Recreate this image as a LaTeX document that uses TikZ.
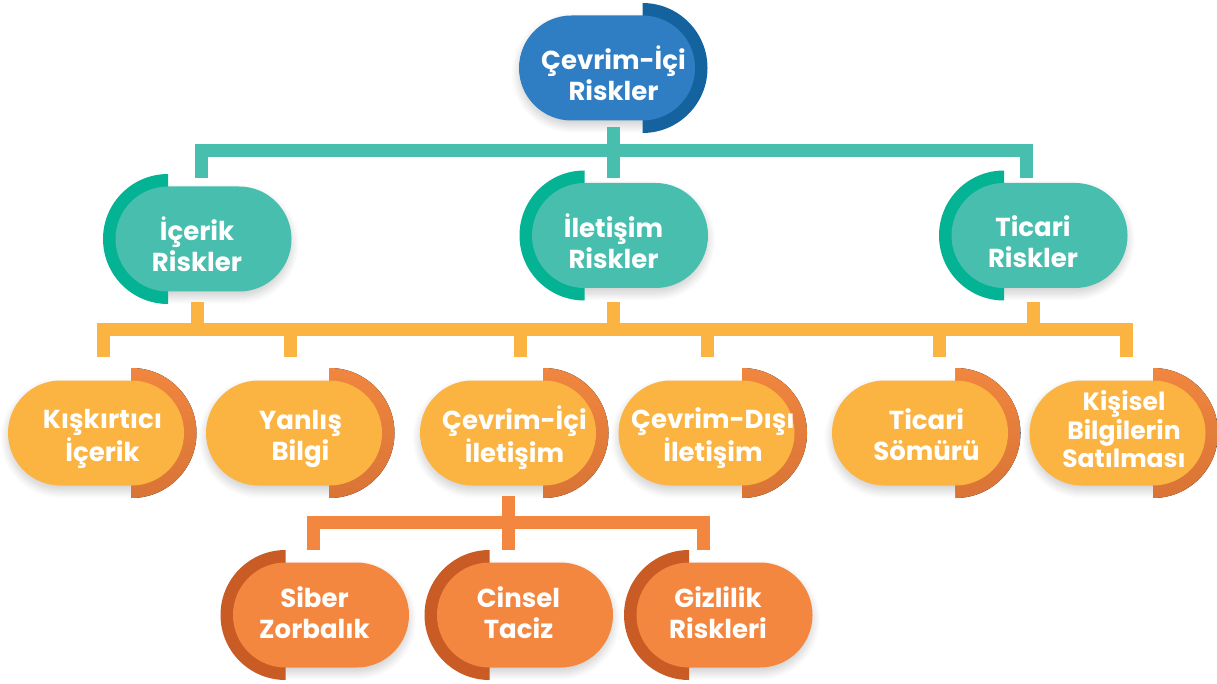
\documentclass[tikz,border=0pt]{standalone}
\usepackage{fontspec}
\setmainfont{Poppins}
\usetikzlibrary{shadows.blur}
\definecolor{cBlue}{HTML}{2F7DC3}
\definecolor{cBlueD}{HTML}{14639E}
\definecolor{cTeal}{HTML}{48BEAE}
\definecolor{cTealD}{HTML}{04B294}
\definecolor{cYel}{HTML}{FBB442}
\definecolor{cYelDt}{HTML}{F0863F}
\definecolor{cYelDb}{HTML}{D97436}
\definecolor{cOra}{HTML}{F4873F}
\definecolor{cOraD}{HTML}{C95B24}
\tikzset{
  rbtext/.style={text=white, font=\bfseries\fontsize{26}{31}\selectfont,
    minimum width=189pt, minimum height=105pt, inner sep=0pt},
  pshadow/.style={blur shadow={shadow xshift=0pt, shadow yshift=-5pt,
    shadow blur radius=8pt, shadow opacity=20, shadow blur steps=10}},
  conn/.style={line width=13pt, line cap=butt, line join=miter},
  tconn/.style={conn, draw=cTeal},
  yconn/.style={conn, draw=cYel},
  oconn/.style={conn, draw=cOra}
}
% #1 node options, #2 name, #3 cx, #4 cy, #5 side (1 = dark right, -1 = dark left),
% #6 pill colour, #7 dark fill options, #8 text lowering (pt), #9 text
\newcommand{\riskbox}[9][]{%
  \pgfmathsetmacro{\rbPcx}{#3-6.5*(#5)}%
  \pgfmathsetmacro{\rbAx}{#3+29*(#5)}%
  \pgfmathsetmacro{\rbEa}{90-180*(#5)}%
  \path[pshadow, rounded corners=52.5pt] ({\rbPcx-88},{#4-52.5}) rectangle ({\rbPcx+88},{#4+52.5});
  \fill[#7] (\rbAx,{#4-65}) arc[start angle=90, end angle=\rbEa, radius=65pt] -- cycle;
  \fill[#6, rounded corners=52.5pt] ({\rbPcx-88},{#4-52.5}) rectangle ({\rbPcx+88},{#4+52.5});
  \node[rbtext,#1] (#2) at (#3,#4)
    {\raisebox{-#8pt}[\height][\depth]{\begin{tabular}{@{}c@{}}#9\end{tabular}}};
}
\begin{document}
\begin{tikzpicture}[x=1pt,y=-1pt]
\useasboundingbox (0,0) rectangle (1217,684);
% level 1
\riskbox{top}{613.5}{68}{1}{cBlue}{cBlueD}{10}{Çevrim-İçi\\Riskler}
% level 2
\riskbox{l2a}{197}{239}{-1}{cTeal}{cTealD}{10}{İçerik\\Riskler}
\riskbox{l2b}{613.5}{235.5}{-1}{cTeal}{cTealD}{10}{İletişim\\Riskler}
\riskbox{l2c}{1033}{235.5}{-1}{cTeal}{cTealD}{10}{Ticari\\Riskler}
% level 3
\riskbox{l3a}{102.5}{433}{1}{cYel}{top color=cYelDt, bottom color=cYelDb}{6}{Kışkırtıcı\\İçerik}
\riskbox{l3b}{300.5}{433}{1}{cYel}{top color=cYelDt, bottom color=cYelDb}{6}{Yanlış\\Bilgi}
\riskbox{l3c}{514.5}{433}{1}{cYel}{top color=cYelDt, bottom color=cYelDb}{6}{Çevrim-İçi\\İletişim}
\riskbox{l3d}{713}{433}{1}{cYel}{top color=cYelDt, bottom color=cYelDb}{6}{Çevrim-Dışı\\İletişim}
\riskbox{l3e}{926.5}{433}{1}{cYel}{top color=cYelDt, bottom color=cYelDb}{6}{Ticari\\Sömürü}
\riskbox[font=\bfseries\fontsize{25}{28}\selectfont]{l3f}{1124}{433}{1}{cYel}{top color=cYelDt, bottom color=cYelDb}{0}{Kişisel\\Bilgilerin\\Satılması}
% level 4
\riskbox{l4a}{314.5}{615}{-1}{cOra}{cOraD}{1.5}{Siber\\Zorbalık}
\riskbox{l4b}{518.5}{615}{-1}{cOra}{cOraD}{1.5}{Cinsel\\Taciz}
\riskbox{l4c}{718}{615}{-1}{cOra}{cOraD}{1.5}{Gizlilik\\Riskleri}
% teal connectors
\coordinate (tbar) at (0,150.5);
\coordinate (ta) at ([xshift=4.5pt,yshift=8.5pt]l2a.north);
\coordinate (tc) at ([xshift=-6.5pt,yshift=5pt]l2c.north);
\draw[tconn] ([yshift=-6.5pt]top.south) -- ([yshift=5pt]l2b.north);
\draw[tconn] (ta) -- (ta |- tbar) -- (tc |- tbar) -- (tc);
% yellow connectors
\coordinate (ybar) at (0,329.5);
\coordinate (ya) at ([xshift=1pt,yshift=23.5pt]l3a.north);
\coordinate (yb) at ([xshift=-10pt,yshift=23.5pt]l3b.north);
\coordinate (yc) at ([xshift=6pt,yshift=23.5pt]l3c.north);
\coordinate (yd) at ([xshift=-5.5pt,yshift=23.5pt]l3d.north);
\coordinate (ye) at ([xshift=13pt,yshift=23.5pt]l3e.north);
\coordinate (yf) at ([xshift=2.5pt,yshift=23.5pt]l3f.north);
\coordinate (s2a) at ([xshift=0.5pt,yshift=-10.5pt]l2a.south);
\coordinate (s2b) at ([yshift=-14pt]l2b.south);
\coordinate (s2c) at ([xshift=0.5pt,yshift=-14pt]l2c.south);
\draw[yconn] (s2a) -- (s2a |- ybar);
\draw[yconn] (s2b) -- (s2b |- ybar);
\draw[yconn] (s2c) -- (s2c |- ybar);
\draw[yconn] (ya) -- (ya |- ybar) -- (yf |- ybar) -- (yf);
\draw[yconn] (yb |- ybar) -- (yb);
\draw[yconn] (yc |- ybar) -- (yc);
\draw[yconn] (yd |- ybar) -- (yd);
\draw[yconn] (ye |- ybar) -- (ye);
% orange connectors
\coordinate (obar) at (0,522.5);
\coordinate (oa) at ([xshift=-1pt,yshift=12.5pt]l4a.north);
\coordinate (oc) at ([xshift=-14.5pt,yshift=12.5pt]l4c.north);
\draw[oconn] ([xshift=-6pt,yshift=-10.5pt]l3c.south) -- ([xshift=-10pt,yshift=12.5pt]l4b.north);
\draw[oconn] (oa) -- (oa |- obar) -- (oc |- obar) -- (oc);
\end{tikzpicture}
\end{document}
